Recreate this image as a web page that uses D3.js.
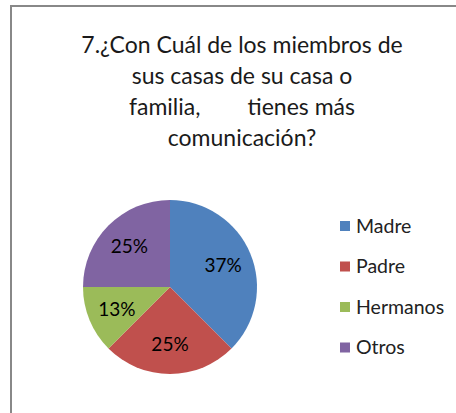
<!DOCTYPE html>
<html><head><meta charset="utf-8">
<script src="https://cdn.jsdelivr.net/npm/d3@7/dist/d3.min.js"></script>
<style>body{margin:0;background:#fff;}svg{display:block;}</style>
</head><body>
<script>
const categories = ["Madre", "Padre", "Hermanos", "Otros"];
const values = [37.5, 25, 12.5, 25];
const valueLabels = ["37%", "25%", "13%", "25%"];
const colors = ["#4F81BD", "#C0504D", "#9BBB59", "#8064A2"];
const titleLines = ["7.¿Con Cuál de los miembros de", "sus casas de su casa o", "familia,\u00a0\u00a0\u00a0\u00a0\u00a0\u00a0\u00a0 tienes más", "comunicación?"];

const W = 456, H = 413;
const svg = d3.select("body").append("svg").attr("width", W).attr("height", H);
const font = "Lato, 'Open Sans', sans-serif";

// border (only top & left visible)
svg.append("path").attr("d", "M11,413 L11,6 L456,6").attr("fill", "none")
  .attr("stroke", "#888").attr("stroke-width", 2);

// title
svg.append("g").selectAll("text").data(titleLines).join("text")
  .attr("x", 242).attr("y", (d, i) => 53 + i * 31)
  .attr("text-anchor", "middle").attr("font-family", font).attr("font-size", 23)
  .attr("fill", "#1a1a1a").text(d => d);

// pie
const cx = 170, cy = 287, R = 87;
const pie = d3.pie().sort(null).value(d => d);
const arcs = pie(values);
const arc = d3.arc().innerRadius(0).outerRadius(R);
const labelArc = d3.arc().innerRadius(R * 0.66).outerRadius(R * 0.66);
const g = svg.append("g").attr("transform", `translate(${cx},${cy})`);
g.selectAll("path").data(arcs).join("path")
  .attr("d", arc).attr("fill", (d, i) => colors[i]);
g.selectAll("text").data(arcs).join("text")
  .attr("transform", d => `translate(${labelArc.centroid(d)})`)
  .attr("text-anchor", "middle").attr("dy", "0.35em")
  .attr("font-family", font).attr("font-size", 19).attr("fill", "#000")
  .text((d, i) => valueLabels[i]);

// legend
const lg = svg.append("g");
const rows = lg.selectAll("g").data(categories).join("g")
  .attr("transform", (d, i) => `translate(340,${226 + i * 40.5})`);
rows.append("rect").attr("x", 0).attr("y", -5).attr("width", 10).attr("height", 10)
  .attr("fill", (d, i) => colors[i]);
rows.append("text").attr("x", 16).attr("dy", "0.35em")
  .attr("font-family", font).attr("font-size", 19.5).attr("fill", "#222")
  .text(d => d);
</script>
</body></html>
